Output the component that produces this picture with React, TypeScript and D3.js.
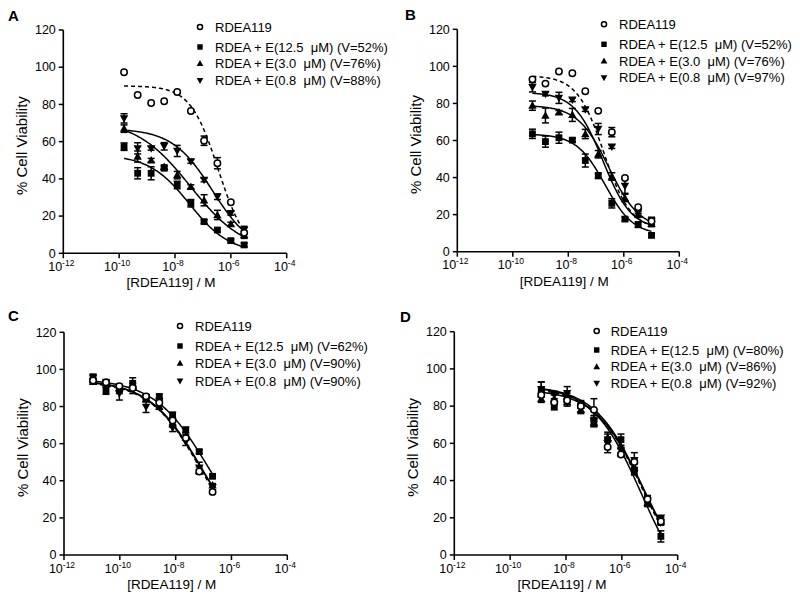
import React from 'react';
import * as d3 from 'd3';

// ---------- data ----------
const panelLetters = ['A', 'B', 'C', 'D'];
const seriesLabels = ['RDEA119', 'RDEA + E(12.5  \u03BCM)', 'RDEA + E(3.0  \u03BCM)', 'RDEA + E(0.8  \u03BCM)'];
const viabilityA = ['', '52%', '76%', '88%'];
const viabilityB = ['', '52%', '76%', '97%'];
const viabilityC = ['', '62%', '90%', '90%'];
const viabilityD = ['', '80%', '86%', '92%'];
const xTickExponents = [-12, -10, -8, -6, -4];
const yTicks = [0, 20, 40, 60, 80, 100, 120];

// concentrations (M)
const concA = [1.5e-10, 4.6e-10, 1.4e-9, 4.1e-9, 1.2e-8, 3.7e-8, 1.1e-7, 3.3e-7, 1e-6, 3e-6];
const concB = [5.1e-10, 1.5e-9, 4.6e-9, 1.4e-8, 4.1e-8, 1.2e-7, 3.7e-7, 1.1e-6, 3.3e-6, 1e-5];
const concC = [1.1e-11, 3.2e-11, 9.6e-11, 2.9e-10, 8.7e-10, 2.6e-9, 7.8e-9, 2.3e-8, 7e-8, 2.1e-7];
const concD = [1.3e-9, 3.8e-9, 1.1e-8, 3.4e-8, 1e-7, 3.1e-7, 9.3e-7, 2.8e-6, 8.3e-6, 2.5e-5];

// panel A
const rdeaA = [97.3, 85.1, 80.8, 81.7, 86.7, 76.5, 60.5, 48.4, 27.4, 11];
const e125A = [57.3, 43, 43, 45.7, 36.7, 26.9, 17, 12.5, 6.8, 4.5];
const e30A = [67, 52, 50, 46.5, 42, 35.8, 28.5, 20.6, 15.7, 10];
const e08A = [72.5, 56.4, 56.4, 57.5, 55, 49.4, 39.4, 30.4, 21.5, 12.5];
const errRdeaA = [0, 0, 0, 0, 0, 0, 2.5, 3, 0, 0];
const err125A = [2, 3, 3.5, 1, 2, 2, 1, 1, 1, 1];
const err30A = [2, 3, 1, 1, 2, 1, 3, 2.5, 1, 2];
const err08A = [2.5, 3, 1, 2, 3, 1, 1, 1.5, 1, 2];

// panel B
const rdeaB = [93, 90.7, 97.2, 96.3, 86.6, 76, 64.5, 39.8, 24, 16.4];
const e125B = [63.6, 59.4, 61.5, 60.2, 49.2, 41, 26.1, 17.6, 14.6, 8.8];
const e30B = [78.8, 73.5, 75.2, 73.8, 63.5, 52.6, 40.6, 29, 20, 15];
const e08B = [88.7, 85.1, 83, 82, 76.7, 66.2, 56.7, 35.5, 21.5, 16.6];
const errRdeaB = [0, 0, 0, 0, 0, 0, 2.5, 0, 0, 0];
const err125B = [2.5, 3, 3, 1, 3.5, 1.5, 2.5, 1, 1.5, 1];
const err30B = [2.5, 4, 1, 3.5, 2.5, 2, 2, 2, 1.5, 1.5];
const err08B = [2.5, 1, 3, 1, 1, 3, 1, 4, 1, 2];

// panel C
const rdeaC = [94, 93, 91, 90, 85.5, 82, 72.5, 63, 45, 34];
const e125C = [95, 88.6, 89, 92.5, 85, 85.3, 75.4, 67.4, 55.7, 42.4];
const e30C = [93.5, 93, 90, 91, 84, 80, 70.5, 63.5, 45.5, 37.5];
const e08C = [95.5, 92.5, 87, 89, 79.8, 83, 68.5, 61, 47, 36.5];
const errRdeaC = [1, 1, 1, 1, 1, 1, 1, 1, 1, 1];
const err125C = [2, 2, 2, 3, 1, 1.5, 1.5, 1.5, 1, 1];
const err30C = [1.5, 1.5, 1.5, 1.5, 1.5, 1.5, 1.5, 1.5, 2, 1];
const err08C = [2, 2, 3.5, 2, 3, 1, 2, 2, 3, 1.5];

// panel D
const rdeaD = [86, 82, 83, 80, 78, 58, 54, 50, 30, 18];
const e125D = [89, 80, 84, 81, 72, 62, 62, 45, 30, 10];
const e30D = [84, 84, 82, 78, 71, 63, 55, 47, 28, 18];
const e08D = [89, 86, 87, 79, 72, 60, 56, 51, 29, 20];
const errRdeaD = [1, 1, 1, 1, 6, 3, 1, 1, 1, 1];
const err125D = [4, 2, 3, 2, 3, 4, 3, 2, 2, 3];
const err30D = [2, 2, 2, 2, 2, 2, 2, 2, 2, 2];
const err08D = [4, 2, 3.5, 2, 2, 3, 2, 4, 2, 1];

// fitted dose-response curves: [top, bottom, logEC50, hill] per series
const fitA = [[90, 0, -6.45, 0.874], [53, 0, -7.48, 0.6], [72, 0, -7.45, 0.445], [67, 0, -6.65, 0.6]];
const fitB = [[95, 12, -6.72, 0.9], [63.5, 9, -6.68, 0.85], [79, 12, -6.54, 0.78], [86, 12, -6.75, 0.85]];
const fitC = [[93.5, 0, -7.12, 0.48], [95, 0, -6.84, 0.45], [94, 0, -7.08, 0.47], [94.5, 0, -7.1, 0.46]];
const fitD = [[90, -20, -5.25, 0.5], [91, -25, -5.3, 0.5], [89, -20, -5.2, 0.5], [91, -18, -5.25, 0.5]];

// ---------- assembled panel tables ----------
const panels = [
  { conc: concA, values: [rdeaA, e125A, e30A, e08A], errors: [errRdeaA, err125A, err30A, err08A], fits: fitA, v: viabilityA },
  { conc: concB, values: [rdeaB, e125B, e30B, e08B], errors: [errRdeaB, err125B, err30B, err08B], fits: fitB, v: viabilityB },
  { conc: concC, values: [rdeaC, e125C, e30C, e08C], errors: [errRdeaC, err125C, err30C, err08C], fits: fitC, v: viabilityC },
  { conc: concD, values: [rdeaD, e125D, e30D, e08D], errors: [errRdeaD, err125D, err30D, err08D], fits: fitD, v: viabilityD },
];

// ---------- layout ----------
const layouts = [
  { x0: 63.3, x1: 286.7, y0: 253.3, y1: 30, mx: 200, tx: 215, ly: [27, 47, 63.5, 80.5], lx: 8, lyL: 20.7 },
  { x0: 457.3, x1: 679.3, y0: 251.7, y1: 29.3, mx: 604, tx: 619, ly: [24.3, 44.3, 61, 77.7], lx: 405, lyL: 20 },
  { x0: 64, x1: 287.3, y0: 555, y1: 332.3, mx: 180, tx: 195, ly: [326, 346, 363.3, 381], lx: 8, lyL: 320.7 },
  { x0: 454.3, x1: 677.7, y0: 555, y1: 331.7, mx: 596.7, tx: 610.7, ly: [331, 350, 366.7, 383.3], lx: 400, lyL: 321.7 },
];

const FONT = '"Liberation Sans", Arial, Helvetica, sans-serif';

function Marker({ kind, x, y, s = 1 }: { kind: number; x: number; y: number; s?: number }) {
  if (kind === 0) return <circle cx={x} cy={y} r={3.2 * s} fill="#fff" stroke="#000" strokeWidth={1.5} />;
  if (kind === 1) { const h = 3.4 * s; return <rect x={x - h} y={y - h} width={2 * h} height={2 * h} fill="#000" />; }
  if (kind === 2) return <path d={`M${x},${y - 4.3 * s}L${x + 4.2 * s},${y + 3.2 * s}L${x - 4.2 * s},${y + 3.2 * s}Z`} fill="#000" />;
  return <path d={`M${x},${y + 4.3 * s}L${x + 4.2 * s},${y - 3.2 * s}L${x - 4.2 * s},${y - 3.2 * s}Z`} fill="#000" />;
}

function Panel({ idx }: { idx: number }) {
  const L = layouts[idx];
  const P = panels[idx];
  const x = d3.scaleLog().domain([1e-12, 1e-4]).range([L.x0, L.x1]);
  const y = d3.scaleLinear().domain([0, 120]).range([L.y0, L.y1]);
  const lo = d3.min(P.conc) as number;
  const hi = d3.max(P.conc) as number;
  const samples = d3.range(0, 121).map((i) => Math.pow(10, Math.log10(lo) + (Math.log10(hi) - Math.log10(lo)) * i / 120));
  const curve = (f: number[]) => d3.line<number>()
    .x((c) => x(c))
    .y((c) => y(f[1] + (f[0] - f[1]) / (1 + Math.pow(10, (Math.log10(c) - f[2]) * f[3]))))(samples) || '';
  const midX = (L.x0 + L.x1) / 2;
  const midY = (L.y0 + L.y1) / 2;
  const order = [3, 2, 1, 0];
  return (
    <g fontFamily={FONT}>
      <text x={L.lx} y={L.lyL} fontSize={15} fontWeight="bold">{panelLetters[idx]}</text>
      {/* axes */}
      <line x1={L.x0} x2={L.x1} y1={L.y0} y2={L.y0} stroke="#000" strokeWidth={1.6} />
      <line x1={L.x0} x2={L.x0} y1={L.y0} y2={L.y1} stroke="#000" strokeWidth={1.6} />
      {yTicks.map((t) => (
        <g key={'y' + t}>
          <line x1={L.x0 - 4.5} x2={L.x0} y1={y(t)} y2={y(t)} stroke="#000" strokeWidth={1.5} />
          <text x={L.x0 - 7.5} y={y(t)} dy="0.34em" textAnchor="end" fontSize={12.5}>{t}</text>
        </g>
      ))}
      {xTickExponents.map((e) => (
        <g key={'x' + e}>
          <line x1={x(Math.pow(10, e))} x2={x(Math.pow(10, e))} y1={L.y0} y2={L.y0 + 5} stroke="#000" strokeWidth={1.5} />
          <text x={x(Math.pow(10, e)) - 2} y={L.y0 + 17.5} textAnchor="middle" fontSize={12.5}>
            10<tspan fontSize={8.5} dy={-5}>{String(e)}</tspan>
          </text>
        </g>
      ))}
      <text x={midX - 4} y={L.y0 + 34} textAnchor="middle" fontSize={13.5}>[RDEA119] / M</text>
      <text transform={`translate(${L.x0 - 36},${midY + 4}) rotate(-90)`} textAnchor="middle" fontSize={15}>% Cell Viability</text>
      {/* fitted curves */}
      {order.map((s) => (
        <path key={'c' + s} d={curve(P.fits[s])} fill="none" stroke="#000" strokeWidth={1.5}
          strokeDasharray={s === 0 ? '4,3' : undefined} />
      ))}
      {/* error bars */}
      {order.map((s) => P.values[s].map((v, i) => {
        const e = P.errors[s][i];
        if (!e) return null;
        const cx = x(P.conc[i]);
        return (
          <g key={`e${s}-${i}`} stroke="#000" strokeWidth={1.5}>
            <line x1={cx} x2={cx} y1={y(v - e)} y2={y(v + e)} />
            <line x1={cx - 3.5} x2={cx + 3.5} y1={y(v - e)} y2={y(v - e)} />
            <line x1={cx - 3.5} x2={cx + 3.5} y1={y(v + e)} y2={y(v + e)} />
          </g>
        );
      }))}
      {/* markers */}
      {order.map((s) => P.values[s].map((v, i) => (
        <Marker key={`m${s}-${i}`} kind={s} x={x(P.conc[i])} y={y(v)} />
      )))}
      {/* legend */}
      {seriesLabels.map((lab, s) => (
        <g key={'l' + s}>
          <Marker kind={s} x={L.mx} y={L.ly[s]} s={0.8} />
          <text x={L.tx} y={L.ly[s]} dy="0.36em" fontSize={13} style={{ whiteSpace: 'pre' }}>
            {P.v[s] ? `${lab} (V=${P.v[s]})` : lab}
          </text>
        </g>
      ))}
    </g>
  );
}

export default function App() {
  return (
    <svg width={800} height={600} style={{ position: 'absolute', left: 0, top: 0, background: '#fff' }}>
      <rect width={800} height={600} fill="#fff" />
      {[0, 1, 2, 3].map((i) => <Panel key={i} idx={i} />)}
    </svg>
  );
}
